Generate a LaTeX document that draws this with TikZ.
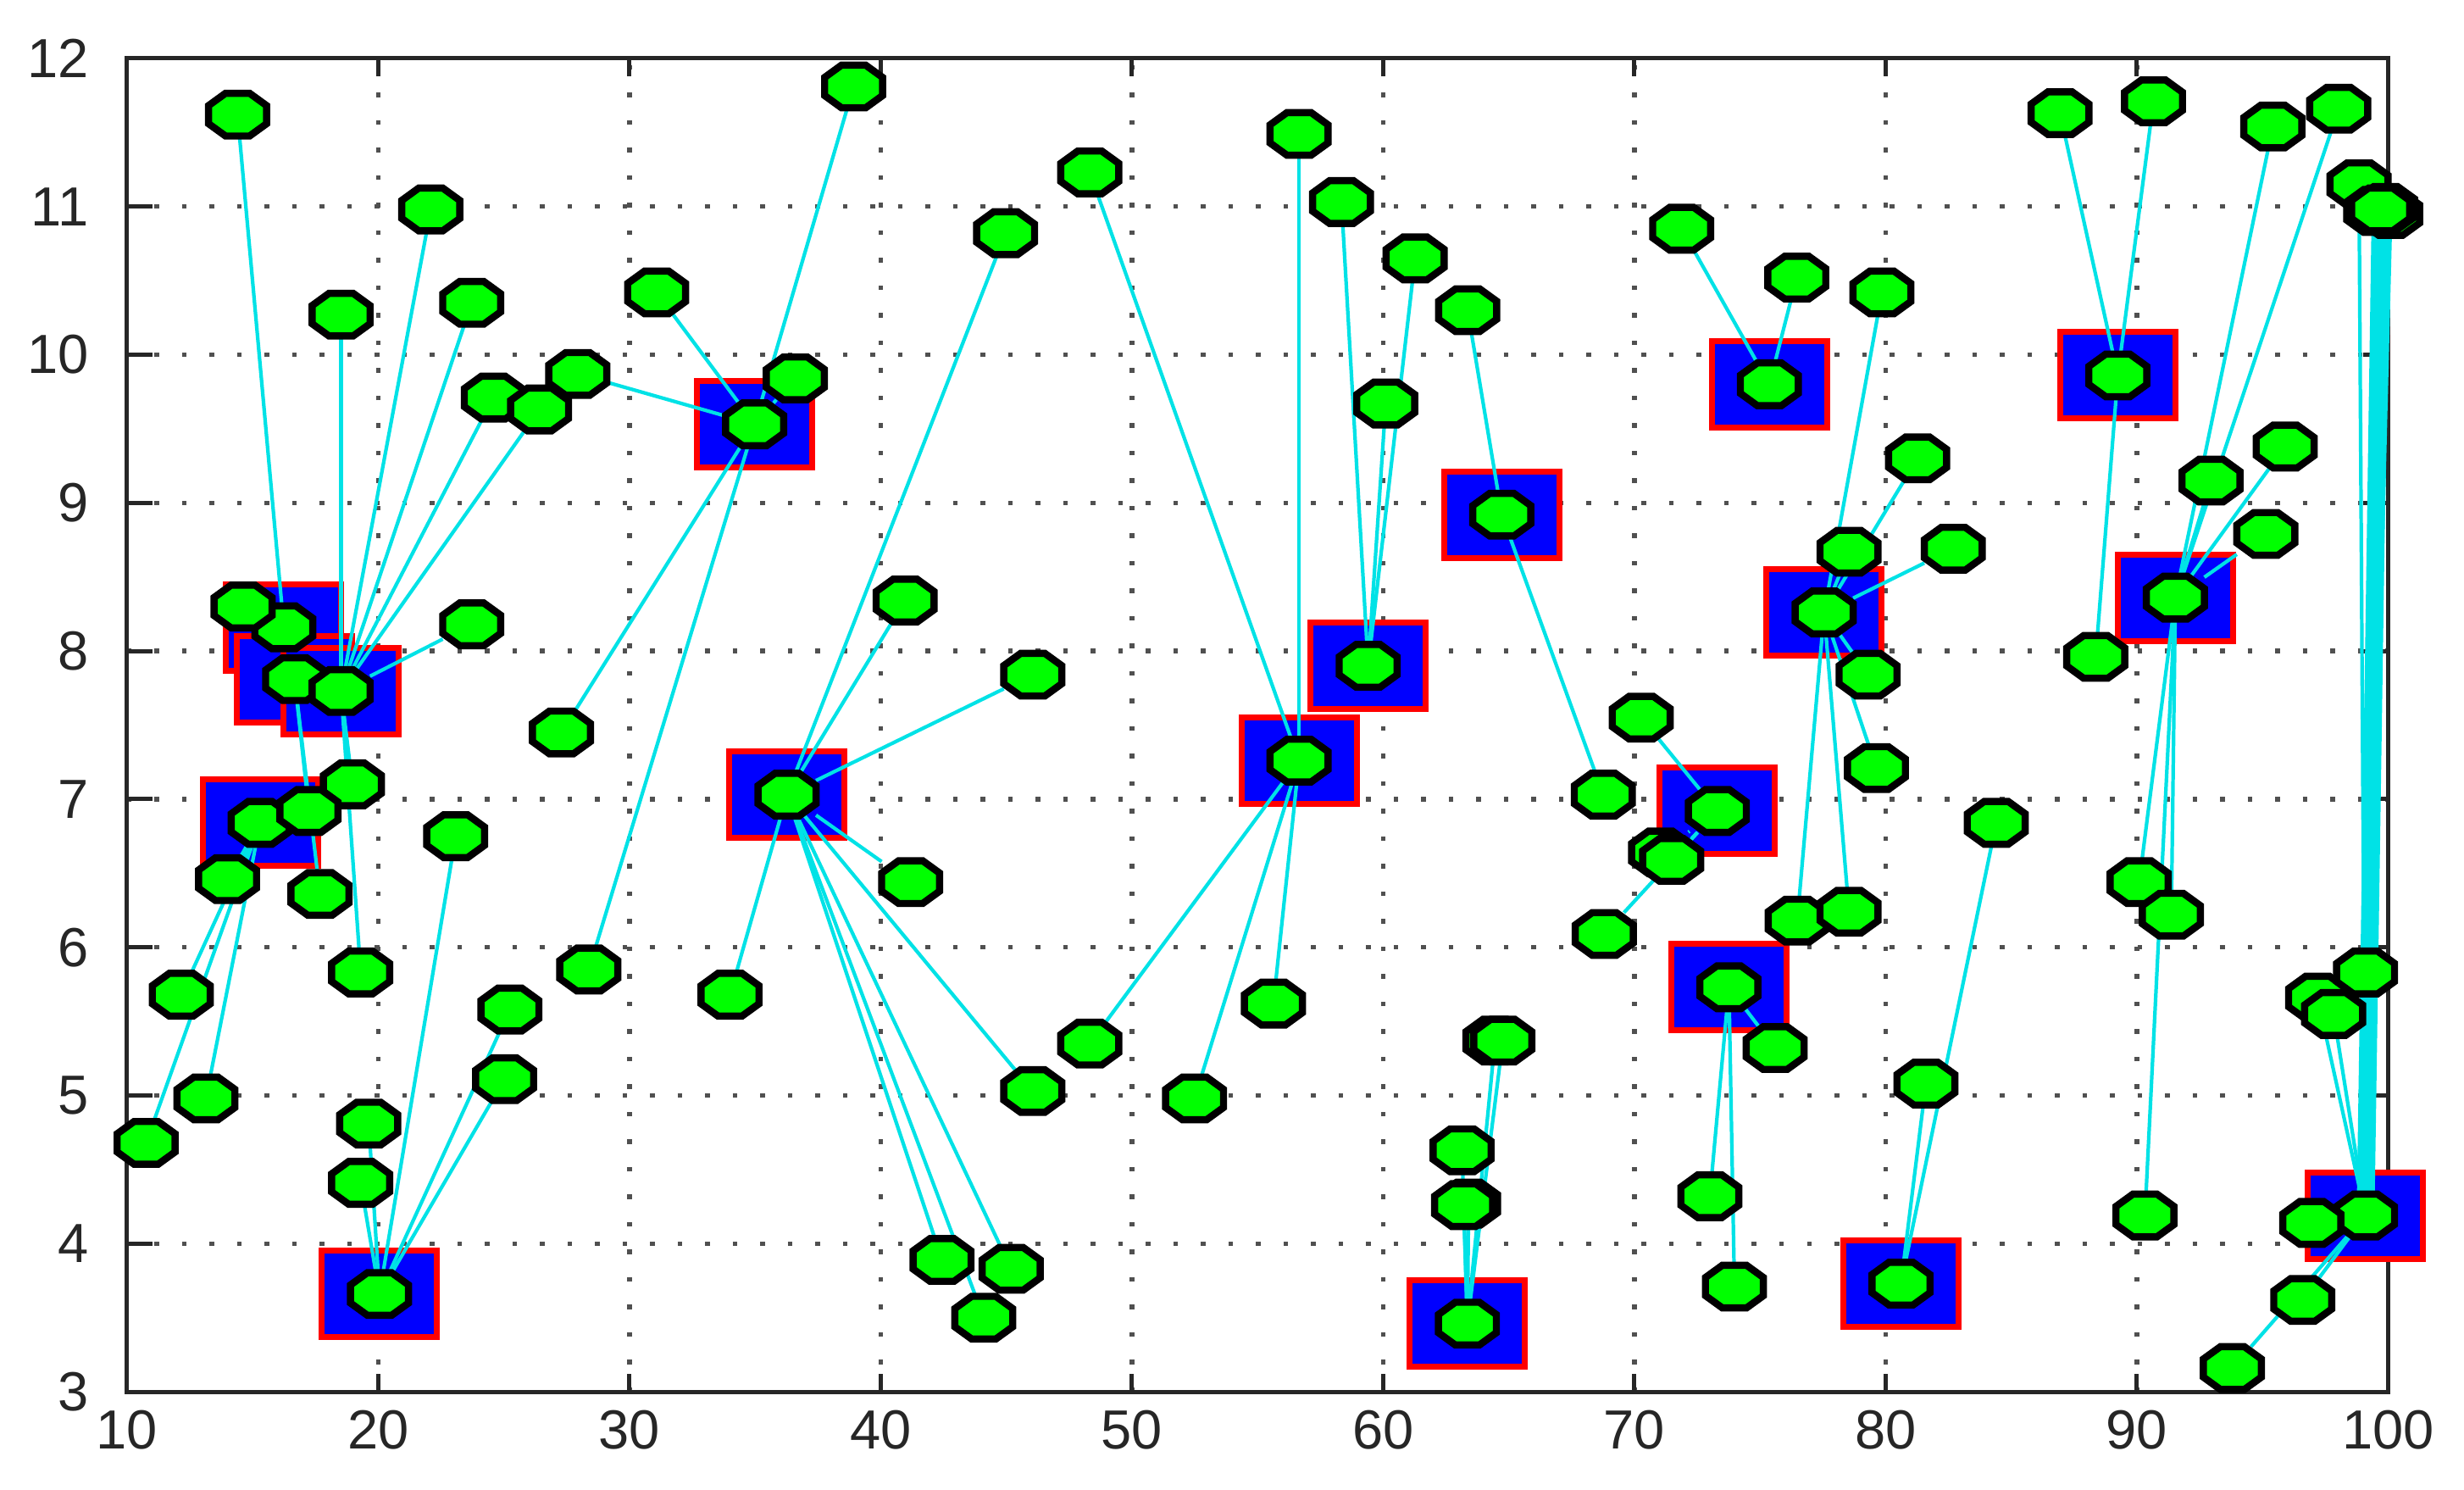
\documentclass[tikz,border=0pt]{standalone}
\usepackage{fontspec}
\setmainfont{Liberation Sans}
\definecolor{nodegreen}{RGB}{0,255,0}
\definecolor{linkcyan}{RGB}{0,226,230}
\definecolor{gridgray}{RGB}{80,80,80}
\pgfdeclarelayer{gridlayer}
\pgfdeclarelayer{headlayer}
\pgfdeclarelayer{linklayer}
\pgfsetlayers{gridlayer,headlayer,linklayer,main}

\begin{document}
\begin{tikzpicture}[x=0.2965cm, y=1.748cm,
    octagon/.style={draw=black, fill=nodegreen, line width=2.4pt, line join=miter},
    sensor/.style={rectangle, inner sep=0pt, minimum width=0.67cm, minimum height=0.49cm,
      append after command={\pgfextra{\draw[octagon]
        ([xshift=0.2cm]\tikzlastnode.north west) -- ([xshift=-0.2cm]\tikzlastnode.north east)
        -- ([yshift=-0.145cm]\tikzlastnode.north east) -- ([yshift=0.145cm]\tikzlastnode.south east)
        -- ([xshift=-0.2cm]\tikzlastnode.south east) -- ([xshift=0.2cm]\tikzlastnode.south west)
        -- ([yshift=0.145cm]\tikzlastnode.south west) -- ([yshift=-0.145cm]\tikzlastnode.north west)
        -- cycle;}}},
    headbox/.style={rectangle, draw=red, fill=blue, line width=0.07cm,
      minimum width=1.36cm, minimum height=1.02cm, inner sep=0pt},
    link/.style={draw=linkcyan, line width=1.2pt},
    trunk/.style={link, line width=6pt},
    gridline/.style={gridgray, line width=0.055cm, dash pattern=on 0.055cm off 0.27cm},
    axisline/.style={black!85, line width=0.05cm},
    ticklabel/.style={font=\fontsize{18.5}{22}\selectfont, inner sep=0pt, text=black!85}]
  \useasboundingbox (4.944,2.342) rectangle (103.02,12.394);

  \begin{pgfonlayer}{gridlayer}
    \fill[white] (4.944,2.342) rectangle (103.02,12.394);
    \foreach \gx in {20,30,...,90}
      \draw[gridline] (\gx,3) -- (\gx,12);
    \foreach \gy in {4,...,11}
      \draw[gridline] (10,\gy) -- (100,\gy);
    \draw[axisline] (10,3) rectangle (100,12);
    \foreach \gx in {20,30,...,90} {
      \draw[axisline] (\gx,3) -- (\gx,3.12);
      \draw[axisline] (\gx,12) -- (\gx,11.88);
    }
    \foreach \gy in {4,...,11} {
      \draw[axisline] (10,\gy) -- (11,\gy);
      \draw[axisline] (100,\gy) -- (99,\gy);
    }
  \end{pgfonlayer}

  \foreach \gx in {10,20,...,100}
    \node[ticklabel, anchor=north] (xl\gx) at (\gx,2.88) {\gx};
  \foreach \gy in {3,...,12}
    \node[ticklabel, anchor=east] (yl\gy) at (8.49,\gy) {\gy};

  \foreach \h/\px/\py in {1/16.24/8.16, 2/16.67/7.81, 3/18.52/7.73, 4/15.30/6.84,
      5/20.05/3.66, 6/34.98/9.53, 7/36.27/7.03, 8/56.65/7.26, 9/59.40/7.90,
      10/64.72/8.92, 11/63.35/3.46, 12/75.37/9.80, 13/73.30/6.92, 14/73.76/5.73,
      15/77.55/8.26, 16/80.61/3.73, 17/89.24/9.86, 18/91.53/8.36, 19/99.10/4.19} {
    \begin{pgfonlayer}{headlayer}
      \node[headbox] (sq\h) at (\px,\py) {};
    \end{pgfonlayer}
    \node[sensor] (ch\h) at (sq\h) {};
  }

  \foreach \n/\px/\py/\h in {1/14.40/11.62/1, 10/14.62/8.30/1,
      2/22.09/10.98/3, 3/18.52/10.27/3, 4/23.72/10.35/3, 5/24.58/9.71/3,
      6/26.42/9.63/3, 11/23.72/8.18/3, 13/18.97/7.10/3, 18/19.30/5.83/3,
      14/17.24/6.92/2, 16/17.68/6.36/2,
      15/14.00/6.46/4, 17/12.16/5.68/4, 19/13.14/4.98/4, 20/10.76/4.68/4,
      21/23.08/6.75/5, 22/25.24/5.58/5, 23/25.03/5.11/5, 24/19.62/4.81/5, 25/19.30/4.41/5,
      7/27.94/9.87/6, 8/31.08/10.42/6, 9/36.60/9.84/6, 12/27.29/7.45/6,
      26/28.38/5.85/6, 28/38.92/11.81/6,
      27/34.00/5.68/7, 29/44.97/10.82/7, 30/40.97/8.34/7, 31/46.05/7.84/7,
      32/41.19/6.44/7, 33/46.05/5.03/7, 34/42.44/3.89/7, 35/45.19/3.83/7, 36/44.10/3.50/7,
      37/48.32/11.23/8, 38/48.32/5.35/8, 39/52.49/4.98/8, 40/55.63/5.62/8, 41/56.65/11.49/8,
      42/58.34/11.03/9, 43/61.27/10.65/9, 44/60.10/9.67/9,
      45/63.36/10.30/10, 46/68.76/7.03/10,
      47/64.45/5.37/11, 48/64.76/5.37/11, 49/63.14/4.63/11, 50/63.40/4.27/11, 51/63.20/4.26/11,
      52/68.80/6.09/13, 53/70.27/7.55/13, 54/71.04/6.64/13, 55/71.48/6.59/13,
      56/71.88/10.85/12, 57/76.46/10.52/12,
      58/79.85/10.42/15, 59/81.27/9.30/15, 60/78.54/8.67/15, 61/82.69/8.69/15,
      62/79.30/7.84/15, 63/79.63/7.21/15, 64/76.48/6.18/15, 65/78.54/6.24/15,
      66/75.60/5.32/14, 67/73.00/4.32/14, 68/73.98/3.71/14,
      69/81.60/5.08/16, 70/84.40/6.84/16,
      71/86.94/11.63/17, 72/90.66/11.71/17, 73/88.36/7.96/17,
      74/95.41/11.54/18, 75/98.03/11.66/18, 76/92.95/9.15/18, 77/95.90/9.38/18,
      78/95.13/8.79/18, 79/90.09/6.44/18, 80/91.37/6.22/18, 81/90.32/4.19/18,
      82/98.84/11.15/19, 83/97.19/5.66/19, 84/97.83/5.55/19, 85/99.10/5.83/19,
      86/96.96/4.14/19, 87/96.60/3.62/19, 88/93.80/3.16/19,
      89/100.10/10.95/19, 90/99.50/10.97/19, 91/99.90/10.99/19} {
    \node[sensor] (s\n) at (\px,\py) {};
    \begin{pgfonlayer}{linklayer}
      \draw[link] (s\n) -- (ch\h);
    \end{pgfonlayer}
  }

  \node[sensor] (s92) at (99.70,10.98) {};
  \begin{pgfonlayer}{linklayer}
    \draw[trunk] (s92) -- (ch19);
  \end{pgfonlayer}
\end{tikzpicture}
\end{document}
